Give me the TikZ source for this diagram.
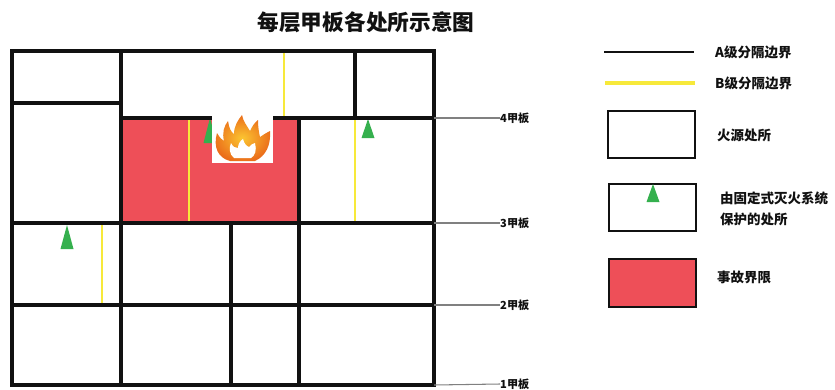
\documentclass[tikz,border=0pt]{standalone}
\usepackage{fontspec}
\setmainfont{Noto Sans CJK SC}
\usetikzlibrary{arrows.meta,positioning}
\definecolor{ink}{HTML}{111111}
\definecolor{deckgray}{HTML}{808080}
\definecolor{bclass}{HTML}{F7E93A}
\definecolor{incident}{HTML}{EE4F58}
\definecolor{fixed}{HTML}{35B04E}
\definecolor{flameout}{HTML}{EB6E1A}
\definecolor{flamein}{HTML}{FBC531}
\tikzset{
  every node/.style={font=\bfseries\fontsize{11}{13}\selectfont,text=ink,inner sep=0pt},
  title/.style={font=\bfseries\fontsize{18.5}{21}\selectfont},
  deck/.style={font=\bfseries\fontsize{9.5}{11}\selectfont,anchor=west},
  legend/.style={anchor=west,align=left,font=\bfseries\fontsize{11.5}{18.5}\selectfont},
  awall/.style={draw=ink,line width=2.8pt},
  bwall/.style={draw=bclass,line width=2.2pt},
  deckline/.style={draw=deckgray,line width=.9pt},
  zone/.style={fill=incident},
  nozzle/.style={fill=fixed},
}
% green marker for a space under fixed fire-extinguishing protection
\newcommand{\sprinkler}[3]{\fill[nozzle] (#1-6.5,#3) -- (#1,#2) -- (#1+6.5,#3) -- cycle;}

\begin{document}
\begin{tikzpicture}[x=.3mm,y=-.3mm]
\path[use as bounding box] (0,0) rectangle (835,389);
\fill[white] (0,0) rectangle (835,389);
\node[title] (title) at (366,22) {每层甲板各处所示意图};
% incident boundary on deck 3
\fill[zone] (121,118) rectangle (299,223);
% B-class boundaries
\draw[bwall] (284,51) -- (284,118);
\draw[bwall] (189,118) -- (189,223);
\draw[bwall] (355,118) -- (355,223);
\draw[bwall] (102,223) -- (102,305);
% markers of protected spaces
\sprinkler{210}{118}{143}
\sprinkler{368}{119}{138}
\sprinkler{67}{225}{249}
% A-class boundaries
\draw[awall] (12,51) rectangle (434,385);
\draw[awall] (12,103) -- (121,103);
\draw[awall] (121,51) -- (121,385);
\draw[awall] (121,118) -- (434,118);
\draw[awall] (355,51) -- (355,118);
\draw[awall] (299,118) -- (299,385);
\draw[awall] (12,223) -- (434,223);
\draw[awall] (231,223) -- (231,385);
\draw[awall] (12,305) -- (434,305);
% fire source
\fill[white] (212,114) rectangle (273,163);
\shade[inner color=flamein,outer color=flameout]
  (230,161) .. controls (218,158) and (213,147) .. (217,133)
  .. controls (220,138) and (222,140) .. (224,141)
  .. controls (222,133) and (224,126) .. (228,121)
  .. controls (229,128) and (231,132) .. (234,134)
  .. controls (234,126) and (238,120) .. (242,115)
  .. controls (243,121) and (247,126) .. (250,131)
  .. controls (252,127) and (254,123) .. (258,120)
  .. controls (258,127) and (259,133) .. (260,137)
  .. controls (263,135) and (266,133) .. (270,131)
  .. controls (271,145) and (266,156) .. (255,161) -- cycle;
\fill[white]
  (234,158) .. controls (229,154) and (229,148) .. (231,143)
  .. controls (233,147) and (235,148) .. (238,148)
  .. controls (238,144) and (240,141) .. (243,139)
  .. controls (244,143) and (246,146) .. (249,147)
  .. controls (251,145) and (253,143) .. (255,143)
  .. controls (257,150) and (255,156) .. (251,158) -- cycle;
% deck marks
\node[deck] (d4) at (500,118) {4甲板};
\node[deck] (d3) at (500,223) {3甲板};
\node[deck] (d2) at (500,305) {2甲板};
\node[deck] (d1) at (500,384) {1甲板};
\draw[deckline] (434,118) -- (d4.west);
\draw[deckline] (434,223) -- (d3.west);
\draw[deckline] (434,305) -- (d2.west);
\draw[deckline] (434,385) -- (d1.west);
% legend
\draw[awall,line width=2.2pt] (604,52) -- (694,52);
\node[legend] (la) at (715,52) {A级分隔边界};
\draw[bwall,line width=2.6pt] (605,83) -- (695,83);
\node[legend] (lb) at (715,83) {B级分隔边界};
\draw[awall,line width=2.4pt] (608,111) rectangle (695,158);
\node[legend] (lsrc) at (717,135) {火源处所};
\draw[awall,line width=2.4pt] (609,184) rectangle (696,231);
\sprinkler{653}{184}{202}
\node[legend] (lfix) at (720,209) {由固定式灭火系统\\保护的处所};
\draw[awall,line width=2.4pt,zone] (609,259) rectangle (696,307);
\node[legend] (linc) at (717,277) {事故界限};
\end{tikzpicture}
\end{document}
